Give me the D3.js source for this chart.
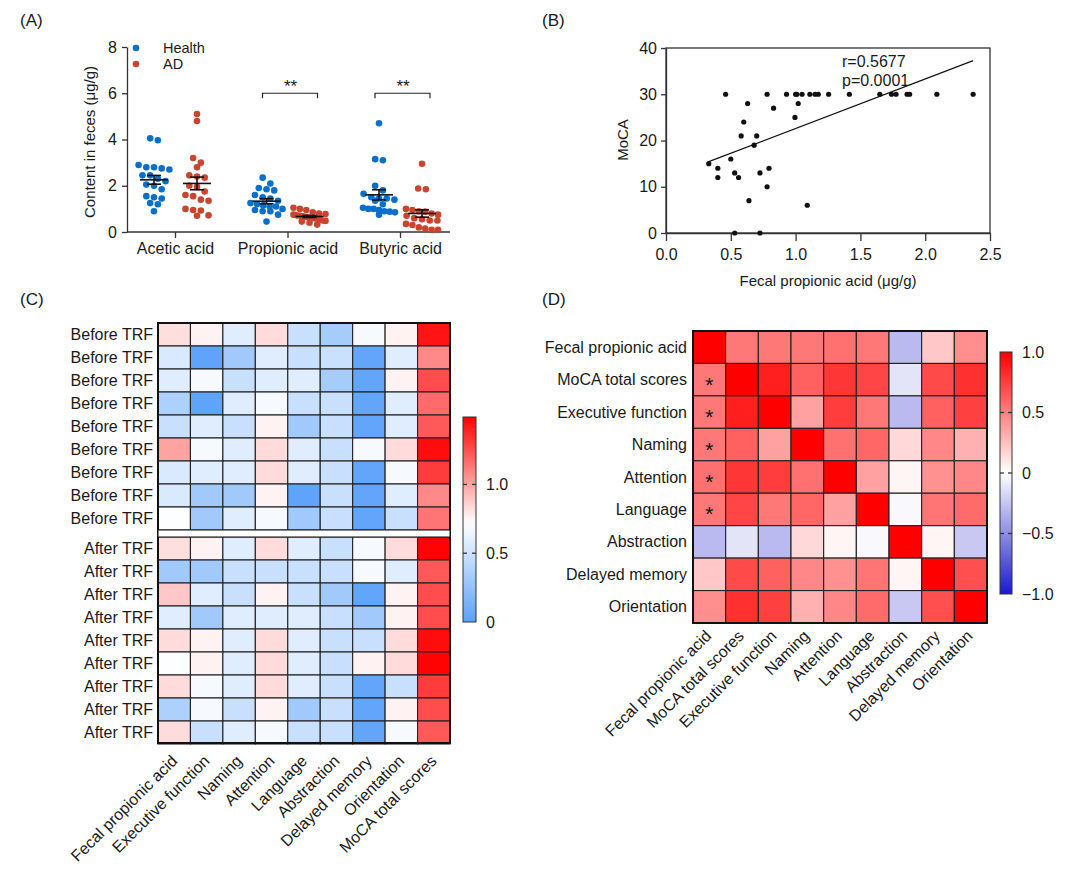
<!DOCTYPE html>
<html>
<head>
<meta charset="utf-8">
<script src="https://cdn.jsdelivr.net/npm/d3@7"></script>
<style>
  body { margin: 0; background: #fff; }
  svg { font-family: "Liberation Sans", Arial, sans-serif; }
  .axis path, .axis line { stroke: #333; stroke-width: 1.3; }
  .axis text { font-size: 16px; fill: #1a1a1a; }
</style>
</head>
<body>
<svg width="1080" height="887"></svg>
<script>
// ---------- Panel A data ----------
const acids = ['Acetic acid', 'Propionic acid', 'Butyric acid'];
const healthAcetic = [4.05, 3.97, 2.9, 2.75, 2.8, 2.8, 2.7, 2.45, 2.45, 2.3, 2.2, 2.05, 2.0, 1.85, 1.55, 1.5, 1.45, 1.25, 1.2, 0.9];
const adAcetic = [5.1, 4.8, 3.2, 3.0, 2.8, 2.45, 2.4, 2.35, 2.0, 1.95, 1.75, 1.6, 1.55, 1.4, 1.35, 1.0, 0.95, 0.93, 0.72, 0.7];
const healthPropionic = [2.35, 2.1, 1.9, 1.85, 1.8, 1.6, 1.5, 1.45, 1.35, 1.25, 1.2, 1.15, 1.1, 1.1, 1.0, 0.95, 0.9, 0.9, 0.75, 0.45];
const adPropionic = [1.05, 1.0, 0.95, 0.85, 0.8, 0.78, 0.75, 0.72, 0.7, 0.68, 0.65, 0.62, 0.6, 0.58, 0.55, 0.5, 0.48, 0.45, 0.4, 0.32];
const healthButyric = [4.7, 3.15, 3.1, 2.0, 1.8, 1.65, 1.5, 1.45, 1.45, 1.4, 1.35, 1.2, 1.05, 1.0, 1.0, 0.95, 0.9, 0.88, 0.85, 0.75];
const adButyric = [2.95, 1.88, 1.85, 1.0, 0.95, 0.9, 0.88, 0.8, 0.75, 0.7, 0.6, 0.55, 0.5, 0.5, 0.35, 0.3, 0.2, 0.15, 0.1, 0.1];
const significant = ['Propionic acid', 'Butyric acid'];

// ---------- Panel B data ----------
const propionicX = [0.33, 0.40, 0.40, 0.46, 0.50, 0.53, 0.53, 0.56, 0.58, 0.60, 0.63, 0.64, 0.68, 0.70, 0.725, 0.725,
  0.78, 0.78, 0.795, 0.83, 0.93, 0.995, 1.0, 1.02, 1.01, 1.05, 1.09, 1.11, 1.15, 1.175, 1.255, 1.415, 1.65, 1.74, 1.775, 1.86, 1.88, 2.09, 2.37];
const mocaY = [15, 14, 12, 30, 16, 13, 0, 12, 21, 24, 28, 7, 19, 21, 13, 0,
  10, 30, 14, 27, 30, 25, 30, 28, 30, 30, 6, 30, 30, 30, 30, 30, 30, 30, 30, 30, 30, 30, 30];
const fitSlope = 10.7, fitIntercept = 11.9;

// ---------- Panel C data ----------
const cCols = ['Fecal propionic acid', 'Executive function', 'Naming', 'Attention', 'Language', 'Abstraction', 'Delayed memory', 'Orientation', 'MoCA total scores'];
const beforeRows = [
  [0.82, 0.76, 0.58, 0.83, 0.48, 0.33, 0.68, 0.76, 1.43],
  [0.56, 0.02, 0.31, 0.58, 0.48, 0.49, 0.04, 0.58, 1.08],
  [0.58, 0.68, 0.48, 0.58, 0.58, 0.33, 0.04, 0.76, 1.26],
  [0.36, 0.02, 0.58, 0.68, 0.48, 0.48, 0.04, 0.58, 1.17],
  [0.48, 0.58, 0.48, 0.76, 0.31, 0.48, 0.04, 0.58, 1.22],
  [1.00, 0.68, 0.58, 0.83, 0.58, 0.48, 0.68, 0.83, 1.45],
  [0.56, 0.58, 0.58, 0.83, 0.58, 0.48, 0.04, 0.68, 1.31],
  [0.56, 0.31, 0.31, 0.76, 0.02, 0.48, 0.04, 0.58, 1.08],
  [0.71, 0.31, 0.58, 0.68, 0.31, 0.48, 0.04, 0.48, 1.14]
];
const afterRows = [
  [0.82, 0.76, 0.58, 0.83, 0.58, 0.48, 0.68, 0.83, 1.48],
  [0.31, 0.31, 0.48, 0.48, 0.48, 0.48, 0.68, 0.58, 1.22],
  [0.89, 0.58, 0.48, 0.76, 0.48, 0.31, 0.04, 0.76, 1.26],
  [0.58, 0.31, 0.58, 0.58, 0.58, 0.48, 0.31, 0.76, 1.26],
  [0.83, 0.76, 0.58, 0.83, 0.58, 0.48, 0.48, 0.83, 1.45],
  [0.71, 0.76, 0.58, 0.83, 0.58, 0.48, 0.76, 0.83, 1.48],
  [0.83, 0.68, 0.58, 0.83, 0.58, 0.48, 0.04, 0.48, 1.31],
  [0.36, 0.68, 0.48, 0.76, 0.31, 0.48, 0.04, 0.76, 1.26],
  [0.83, 0.48, 0.58, 0.68, 0.48, 0.48, 0.04, 0.68, 1.22]
];
const cTicks = [0, 0.5, 1.0];

// ---------- Panel D data ----------
const dVars = ['Fecal propionic acid', 'MoCA total scores', 'Executive function', 'Naming', 'Attention', 'Language', 'Abstraction', 'Delayed memory', 'Orientation'];
const corr = [
  [1.00, 0.53, 0.53, 0.53, 0.56, 0.53, -0.30, 0.22, 0.44],
  [0.53, 1.00, 0.88, 0.62, 0.79, 0.73, -0.12, 0.71, 0.81],
  [0.53, 0.88, 1.00, 0.37, 0.76, 0.53, -0.30, 0.62, 0.75],
  [0.53, 0.62, 0.37, 1.00, 0.56, 0.60, 0.15, 0.47, 0.31],
  [0.56, 0.79, 0.76, 0.56, 1.00, 0.37, 0.04, 0.43, 0.47],
  [0.53, 0.73, 0.53, 0.60, 0.37, 1.00, -0.03, 0.54, 0.58],
  [-0.30, -0.12, -0.30, 0.15, 0.04, -0.03, 1.00, 0.04, -0.24],
  [0.22, 0.71, 0.62, 0.47, 0.43, 0.54, 0.04, 1.00, 0.69],
  [0.44, 0.81, 0.75, 0.31, 0.47, 0.58, -0.24, 0.69, 1.00]
];
const starCells = [[1, 0], [2, 0], [3, 0], [4, 0], [5, 0]];
const dTicks = [1.0, 0.5, 0, -0.5, -1.0];

const svg = d3.select('svg');
const ink = '#1a1a1a';

// panel letters
[['(A)', 20, 26], ['(B)', 542, 26], ['(C)', 20, 305], ['(D)', 542, 305]].forEach(p => {
  svg.append('text').attr('x', p[1]).attr('y', p[2]).attr('font-size', 17).attr('fill', ink).text(p[0]);
});

// ================= Panel A =================
(function panelA() {
  const g = svg.append('g');
  const y = d3.scaleLinear().domain([0, 8]).range([232, 47]);
  const x = d3.scalePoint().domain(acids).range([175, 400]);
  const groups = [
    [healthAcetic, adAcetic], [healthPropionic, adPropionic], [healthButyric, adButyric]
  ];
  const colors = ['#0a6fc8', '#c8462d'];
  const offsets = [-21, 22];
  const r = 3.3, step = 7.7, rowGap = 6.5, halfWidth = 16;

  // prism-like scatter: group nearby values into rows, spread each row sideways
  function swarm(values, cx) {
    const sorted = values.slice().sort((a, b) => b - a);
    const rows = [];
    sorted.forEach(v => {
      const py = y(v);
      const last = rows[rows.length - 1];
      if (last && py - last.start < rowGap) last.pts.push(py);
      else rows.push({start: py, pts: [py]});
    });
    const out = [];
    rows.forEach(row => {
      const n = row.pts.length;
      const s = n > 1 ? Math.min(step, 2 * halfWidth / (n - 1)) : 0;
      row.pts.forEach((py, i) => out.push({x: cx + (i - (n - 1) / 2) * s, y: py}));
    });
    return out;
  }

  g.append('g').attr('class', 'axis').attr('transform', 'translate(127,0)')
    .call(d3.axisLeft(y).ticks(4).tickSize(5).tickSizeOuter(0).tickPadding(5));
  const xa = g.append('g').attr('class', 'axis').attr('transform', 'translate(0,232)')
    .call(d3.axisBottom(x).tickSize(6).tickSizeOuter(0).tickPadding(5));
  xa.select('.domain').attr('d', 'M127,0H450');

  groups.forEach((pair, i) => {
    pair.forEach((vals, j) => {
      const cx = x(acids[i]) + offsets[j];
      g.append('g').selectAll('circle').data(swarm(vals, cx)).join('circle')
        .attr('cx', d => d.x).attr('cy', d => d.y).attr('r', r).attr('fill', colors[j]);
      const m = d3.mean(vals), se = d3.deviation(vals) / Math.sqrt(vals.length);
      const s = g.append('g').attr('stroke', '#111').attr('stroke-width', 1.6);
      s.append('line').attr('x1', cx - 14).attr('x2', cx + 14).attr('y1', y(m)).attr('y2', y(m));
      s.append('line').attr('x1', cx).attr('x2', cx).attr('y1', y(m - se)).attr('y2', y(m + se));
      [m - se, m + se].forEach(v => s.append('line').attr('x1', cx - 7).attr('x2', cx + 7).attr('y1', y(v)).attr('y2', y(v)));
    });
  });

  significant.forEach(c => {
    const cx = x(c), by = y(6);
    g.append('path').attr('fill', 'none').attr('stroke', '#222').attr('stroke-width', 1.2)
      .attr('d', `M${cx - 25},${by + 5}V${by}H${cx + 30}V${by + 5}`);
    g.append('text').attr('x', cx + 3).attr('y', by - 1.5).attr('text-anchor', 'middle')
      .attr('font-size', 17).attr('fill', ink).text('**');
  });

  g.append('text').attr('transform', 'translate(95,142) rotate(-90)').attr('text-anchor', 'middle')
    .attr('font-size', 15).attr('fill', ink).text('Content in feces (μg/g)');

  [['Health', colors[0], 48], ['AD', colors[1], 64]].forEach(l => {
    g.append('circle').attr('cx', 136).attr('cy', l[2]).attr('r', r).attr('fill', l[1]);
    g.append('text').attr('x', 163).attr('y', l[2]).attr('dy', '0.35em').attr('font-size', 14.5).attr('fill', ink).text(l[0]);
  });
})();

// ================= Panel B =================
(function panelB() {
  const g = svg.append('g');
  const x = d3.scaleLinear().domain([0, 2.5]).range([666, 990]);
  const y = d3.scaleLinear().domain([0, 40]).range([233, 48]);
  g.append('rect').attr('x', 666).attr('y', 48).attr('width', 324).attr('height', 185)
    .attr('fill', 'none').attr('stroke', '#333').attr('stroke-width', 1.3);
  g.append('g').attr('class', 'axis').attr('transform', 'translate(0,233)')
    .call(d3.axisBottom(x).ticks(5).tickFormat(d3.format('.1f')).tickSize(8).tickSizeOuter(0).tickPadding(8));
  g.append('g').attr('class', 'axis').attr('transform', 'translate(666,0)')
    .call(d3.axisLeft(y).ticks(4).tickSize(5).tickSizeOuter(0).tickPadding(4));

  const pts = propionicX.map((v, i) => [v, mocaY[i]]);
  g.append('g').selectAll('circle').data(pts).join('circle')
    .attr('cx', d => x(d[0])).attr('cy', d => y(d[1])).attr('r', 2.6).attr('fill', '#111');
  const ext = d3.extent(propionicX);
  g.append('line').attr('stroke', '#111').attr('stroke-width', 1.2)
    .attr('x1', x(ext[0])).attr('y1', y(fitIntercept + fitSlope * ext[0]))
    .attr('x2', x(ext[1])).attr('y2', y(fitIntercept + fitSlope * ext[1]));
  g.append('text').attr('x', 842).attr('y', 67).attr('font-size', 16).attr('fill', ink).text('r=0.5677');
  g.append('text').attr('x', 842).attr('y', 86).attr('font-size', 16).attr('fill', ink).text('p=0.0001');
  g.append('text').attr('transform', 'translate(628,140) rotate(-90)').attr('text-anchor', 'middle')
    .attr('font-size', 15).attr('fill', ink).text('MoCA');
  g.append('text').attr('x', 828).attr('y', 286).attr('text-anchor', 'middle')
    .attr('font-size', 15).attr('fill', ink).text('Fecal propionic acid (μg/g)');
})();

// colour bar helper
function colorBar(id, scale, domain, x0, y0, w, h, ticks, fmt) {
  const grad = svg.append('defs').append('linearGradient').attr('id', id)
    .attr('x1', 0).attr('x2', 0).attr('y1', 1).attr('y2', 0);
  d3.range(0, 1.0001, 0.05).forEach(t => {
    grad.append('stop').attr('offset', t).attr('stop-color', scale(domain[0] + t * (domain[1] - domain[0])));
  });
  const yb = d3.scaleLinear().domain(domain).range([y0 + h, y0]);
  svg.append('rect').attr('x', x0).attr('y', y0).attr('width', w).attr('height', h)
    .attr('fill', `url(#${id})`).attr('stroke', '#333').attr('stroke-width', 1);
  ticks.forEach(t => {
    const ty = yb(t);
    if (t > domain[0] && t < domain[1]) {
      svg.append('line').attr('x1', x0).attr('x2', x0 + 4).attr('y1', ty).attr('y2', ty).attr('stroke', '#333').attr('stroke-width', 1.3);
      svg.append('line').attr('x1', x0 + w - 4).attr('x2', x0 + w).attr('y1', ty).attr('y2', ty).attr('stroke', '#333').attr('stroke-width', 1.3);
    }
    svg.append('text').attr('x', x0 + w + 10).attr('y', ty).attr('dy', '0.35em')
      .attr('font-size', 16).attr('fill', ink).text(fmt(t));
  });
}

// ================= Panel C =================
(function panelC() {
  const g = svg.append('g');
  const color = d3.scaleLinear().domain([0, 0.72, 1.49]).range(['#5aa0fa', '#ffffff', '#ff0000']).clamp(true);
  const x = d3.scaleBand().domain(cCols).range([158, 450]);
  const rowH = 23;
  const blocks = [[beforeRows, 'Before TRF', 323], [afterRows, 'After TRF', 537]];
  blocks.forEach(([rows, label, top]) => {
    rows.forEach((row, ri) => {
      const yy = top + ri * rowH;
      g.append('g').selectAll('rect').data(row).join('rect')
        .attr('x', (d, ci) => x(cCols[ci])).attr('y', yy)
        .attr('width', x.bandwidth()).attr('height', rowH)
        .attr('fill', d => color(d)).attr('stroke', '#222').attr('stroke-width', 1.1);
      g.append('text').attr('x', 153).attr('y', yy + rowH / 2).attr('dy', '0.35em').attr('text-anchor', 'end')
        .attr('font-size', 16).attr('fill', ink).text(label);
    });
  });
  g.append('rect').attr('x', 158).attr('y', 323).attr('width', 292).attr('height', 743 - 323)
    .attr('fill', 'none').attr('stroke', '#111').attr('stroke-width', 2);
  g.append('rect').attr('x', 158).attr('y', 530).attr('width', 292).attr('height', 7)
    .attr('fill', '#fff').attr('stroke', '#222').attr('stroke-width', 1.1);
  g.selectAll('.xl').data(cCols).join('text')
    .attr('transform', d => `translate(${x(d) + x.bandwidth() / 2 + 4},762) rotate(-45)`)
    .attr('text-anchor', 'end').attr('font-size', 16).attr('fill', ink).text(d => d);
  colorBar('gradC', color, [0, 1.49], 463, 417, 13, 205, cTicks, d => d === 0 ? '0' : d3.format('.1f')(d));
})();

// ================= Panel D =================
(function panelD() {
  const g = svg.append('g');
  const color = d3.scaleLinear().domain([-1, 0, 1]).range(['#1a1acc', '#ffffff', '#ff0000']).clamp(true);
  const x = d3.scaleBand().domain(dVars).range([693, 987]);
  const y = d3.scaleBand().domain(dVars).range([331, 623]);
  corr.forEach((row, ri) => {
    g.append('g').selectAll('rect').data(row).join('rect')
      .attr('x', (d, ci) => x(dVars[ci])).attr('y', y(dVars[ri]))
      .attr('width', x.bandwidth()).attr('height', y.bandwidth())
      .attr('fill', d => color(d)).attr('stroke', '#222').attr('stroke-width', 1.1);
  });
  g.append('rect').attr('x', 693).attr('y', 331).attr('width', 294).attr('height', 292)
    .attr('fill', 'none').attr('stroke', '#111').attr('stroke-width', 2);
  starCells.forEach(([ri, ci]) => {
    g.append('text').attr('x', x(dVars[ci]) + x.bandwidth() / 2).attr('y', y(dVars[ri]) + y.bandwidth() / 2 + 12)
      .attr('text-anchor', 'middle').attr('font-size', 21).attr('fill', '#111').text('*');
  });
  g.selectAll('.yl').data(dVars).join('text')
    .attr('x', 687).attr('y', d => y(d) + y.bandwidth() / 2).attr('dy', '0.35em').attr('text-anchor', 'end')
    .attr('font-size', 16).attr('fill', ink).text(d => d);
  g.selectAll('.xl').data(dVars).join('text')
    .attr('transform', d => `translate(${x(d) + x.bandwidth() / 2 + 3},637) rotate(-45)`)
    .attr('text-anchor', 'end').attr('font-size', 16).attr('fill', ink).text(d => d);
  colorBar('gradD', color, [-1, 1], 1000, 352, 12, 242, dTicks, d => d === 0 ? '0' : d3.format('.1f')(d));
})();
</script>
</body>
</html>
